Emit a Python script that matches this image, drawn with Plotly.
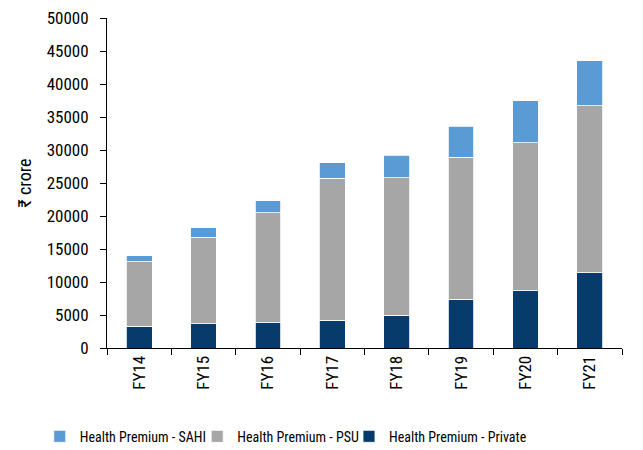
import plotly.graph_objects as go

categories = ["FY14", "FY15", "FY16", "FY17", "FY18", "FY19", "FY20", "FY21"]
private = [3300, 3650, 3800, 4200, 5000, 7350, 8650, 11400]
psu = [9750, 13150, 16700, 21500, 20800, 21550, 22450, 25300]
sahi = [950, 1400, 1800, 2400, 3400, 4700, 6400, 6800]
y_ticks = [0, 5000, 10000, 15000, 20000, 25000, 30000, 35000, 40000, 45000, 50000]
y_ticktext = [str(v) for v in y_ticks]

FONT = "Liberation Sans Narrow, Roboto Condensed, Arial Narrow, Liberation Sans, sans-serif"

fig = go.Figure()
fig.add_trace(go.Bar(x=categories, y=private, name="Health Premium - Private", legend="legend3",
                     marker=dict(color="#073B6C", line=dict(color="white", width=0.8))))
fig.add_trace(go.Bar(x=categories, y=psu, name="Health Premium - PSU", legend="legend2",
                     marker=dict(color="#A6A6A6", line=dict(color="white", width=0.8))))
fig.add_trace(go.Bar(x=categories, y=sahi, name="Health Premium - SAHI", legend="legend",
                     marker=dict(color="#5B9BD5", line=dict(color="white", width=0.8))))

def leg(xpos):
    return dict(orientation="h", xref="container", x=xpos, xanchor="left",
                yref="container", y=0.03, yanchor="middle",
                font=dict(size=14, family=FONT), itemwidth=30,
                bgcolor="rgba(0,0,0,0)")

fig.update_layout(
    barmode="stack",
    bargap=0.6,
    width=635, height=442,
    margin=dict(l=99, r=21, t=10, b=102),
    paper_bgcolor="white", plot_bgcolor="white",
    font=dict(family=FONT, size=17, color="#000000"),
    showlegend=True,
    legend=leg(0.050),
    legend2=leg(0.298),
    legend3=leg(0.537),
    yaxis=dict(range=[0, 50000], tickvals=y_ticks, ticktext=y_ticktext, ticks="outside", ticklen=6,
               tickcolor="#000", showline=True, linecolor="#000", linewidth=1,
               showgrid=False, zeroline=False, automargin=False, ticklabelstandoff=8,
               ticklabeloverflow="allow",
               title=dict(text="₹ crore", font=dict(size=18, family=FONT), standoff=10)),
    xaxis=dict(type="category", tickangle=-90, ticks="outside", ticklen=6, tickcolor="#000",
               tickson="boundaries", showline=True, linecolor="#000", linewidth=1,
               showgrid=False, automargin=False, ticklabeloverflow="allow"),
)

fig.write_html("out.html")
